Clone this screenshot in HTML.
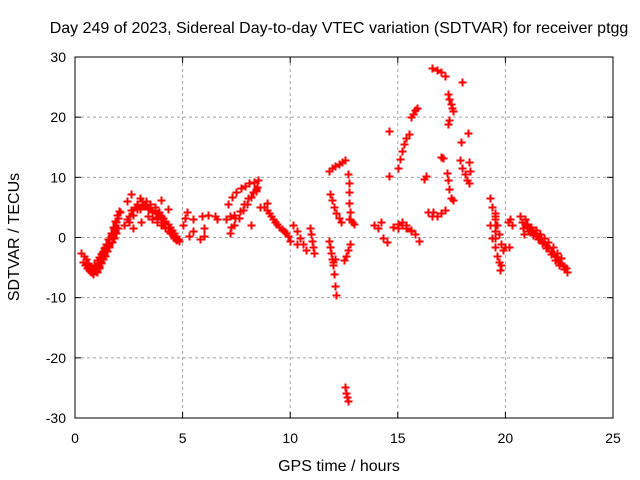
<!DOCTYPE html>
<html><head><meta charset="utf-8"><style>
body{margin:0;background:#fff}
svg{display:block;font-family:"Liberation Sans",sans-serif}
</style></head><body>
<svg id="chart" width="640" height="480" xmlns="http://www.w3.org/2000/svg">
<rect width="640" height="480" fill="#fff"/>
<text x="339" y="33" text-anchor="middle" font-size="16">Day 249 of 2023, Sidereal Day-to-day VTEC variation (SDTVAR) for receiver ptgg</text>
<text x="339" y="471" text-anchor="middle" font-size="16">GPS time / hours</text>
<text transform="translate(19,237) rotate(-90)" text-anchor="middle" font-size="16">SDTVAR / TECUs</text>
<g id="grid"></g><g id="ticks"></g><g id="marks"></g>
<rect x="75" y="57" width="538" height="361" fill="none" stroke="#000" stroke-width="1"/>
</svg>
<script>
const xTicks = [0,5,10,15,20,25];
const yTicks = [-30,-20,-10,0,10,20,30];
const trackTimes = [
[0.3,0.4,0.5,0.6,0.7,0.8,0.9,1.0],
[0.35,0.45,0.55,0.65,0.75,0.85],
[0.95,1.05,1.15,1.25,1.35,1.45,1.55,1.65,1.75,1.85,1.95,2.05],
[1.0,1.1,1.2,1.3,1.4,1.5,1.6,1.7,1.8,1.9,2.0],
[1.1,1.2,1.3,1.4,1.5,1.6,1.7,1.8,1.9,2.0,2.1],
[0.5,0.6,0.7,0.8,0.9,1.0,1.1,1.2,1.3,1.4,1.5,1.6,1.7,1.8],
[2.3,2.5,2.7,2.9,3.1,3.3,3.5,3.7,3.9,4.1,4.3,4.5,4.7,4.85],
[2.4,2.6,2.8,3.0,3.2,3.4,3.6,3.8,4.0,4.2,4.4,4.6,4.8],
[3.4,3.6,3.8,4.0,4.2,4.4,4.6],
[2.5,2.7,2.9,3.1,3.3,3.5,3.7,3.9,4.1,4.3,4.5,4.7],
[3.0,3.2,3.4,3.6,3.8,4.0,4.2,4.4],
[2.4,2.6,2.7,3.05,4.0,4.3],
[5.0,5.1,5.2,5.5,5.5,5.8,5.9,6.0,6.2,6.5,6.6,5.3,6.0],
[7.1,7.3,7.5,7.7,7.9,8.1,8.3,8.5],
[7.2,7.4,7.6,7.8,8.0,8.2,8.4],
[7.25,7.45,7.65,7.85,8.05,8.25,8.45],
[7.0,7.2,7.4,8.2,8.6,8.9,8.4],
[8.9,9.1,9.3,9.5,9.7,9.9],
[8.8,9.0,9.2,9.4,9.6,9.8],
[10.15,10.3,10.45,10.6,10.75,10.0,10.3],
[10.9,10.95,11.0,11.05,11.1],
[11.8,11.95,12.1,12.25,12.4,12.55],
[11.85,11.95,12.05,12.15,12.25,12.35],
[12.7,12.72,12.75,12.75,12.78,12.8],
[12.75,12.85,12.95],
[11.8,11.85,11.9,11.95,12.0,12.05,12.1,12.15,12.0,12.1],
[12.5,12.6,12.7,12.8],
[12.55,12.6,12.65,12.7],
[13.9,14.1,14.3,14.5,14.2],
[14.8,15.0,15.2,15.4,15.6,15.8,16.0],
[15.0,15.2,15.4,15.6],
[14.6,14.6],
[15.0,15.1,15.2,15.3,15.4,15.5],
[15.6,15.7,15.8,15.9],
[16.2,16.3],
[16.4,16.6,16.8,17.0,17.2,16.65],
[16.6,16.8,17.0,17.2],
[17.0,17.1],
[17.35,17.4,17.45,17.5,17.55,17.4,17.35],
[17.3,17.35,17.4,17.45,17.55],
[18.0,17.95,18.25],
[17.9,18.0,18.1,18.2,18.3,18.3,18.35],
[19.3,19.4,19.5,19.6,19.7,19.8,19.9],
[19.3,19.4,19.5,19.6,19.7,19.8],
[19.5,19.5,19.5,19.5,19.5,19.75,20.1,20.2,20.3,20.0,20.15],
[20.7,20.75,20.8,20.85,20.9,21.0,21.05],
[21.0,21.2,21.4,21.6,21.8,22.0,22.2,22.4,22.6,22.8],
[21.1,21.3,21.5,21.7,21.9,22.1,22.3,22.5,22.7,22.85],
[21.0,21.2,21.4,21.6,21.8,22.0,22.2,22.4,22.6],
[21.1,21.3,21.5,21.7,21.9,22.1,22.3,22.5,22.7]
];
const trackValues = [
[-2.5,-3,-3.6,-4.2,-4.7,-5.1,-5.4,-5.6],
[-4,-4.5,-5,-5.4,-5.8,-6],
[-5,-4.3,-3.5,-2.6,-1.8,-1,-0.2,0.8,1.8,2.8,3.7,4.4],
[-5.8,-5,-4.3,-3.6,-3,-2.3,-1.6,-0.8,0,0.8,1.6],
[-4.8,-4,-3,-2.2,-1.2,-0.3,0.5,1.5,2.5,3.3,4.2],
[-3.5,-4.3,-4.8,-5,-4.6,-3.8,-3.2,-2.8,-2.2,-1.6,-1,-0.3,0.3,1],
[2,3.5,4.5,5.5,6,6,5.5,5,4.2,3.3,2.3,1.2,0.2,-0.5],
[3,4.5,5,6.5,5.2,4.8,4.6,4,3.6,2.8,1.8,0.8,-0.2],
[3.5,3,2.5,2,1.5,0.8,0],
[2.5,3.8,4.8,5.3,5.4,5,4.4,3.6,2.6,1.6,0.6,-0.4],
[4.8,5.2,4.8,4.2,3.4,2.6,1.8,1],
[6,7.2,1.5,2.5,6.2,4.8],
[2,3.2,4.2,1,3,-0.2,3.5,1.5,3.8,3.5,3,0.3,0.3],
[5.5,6.7,7.5,8.2,8.6,9,9.3,9.5],
[0.8,2,3.3,4.5,5.6,6.7,7.7],
[1.8,3.2,4.4,5.6,6.6,7.5,8.4],
[3,3.5,3.8,2,5,5.8,8],
[4.5,3.5,2.5,1.8,1,0.3],
[5,4,3,2.2,1.4,0.7],
[2,1,0,-1,-2,-0.5,-1],
[1.5,0.5,-0.5,-1.5,-2.5],
[11,11.5,11.9,12.2,12.5,12.8],
[7.2,6.2,5,4,3.2,2.5],
[10.5,9,7.5,5.8,4.3,3],
[3,2.5,2.2],
[-0.5,-1.5,-2.5,-3.5,-4.5,-6,-8,-9.6,-4,-3.5],
[-3.8,-3,-2,-1],
[-24.8,-25.8,-26.5,-27.2],
[2,1.5,0,-0.8,2.5],
[1.8,2.3,2.5,2,1,0.5,-0.5],
[1.5,2,1.6,1.2],
[17.7,10.2],
[11.5,13,14.3,15.5,16.5,17.2],
[20,20.6,21.2,21.5],
[9.8,10.2],
[4.2,3.5,3.5,4,4.5,4.2],
[28.2,27.8,27.5,26.8],
[13.4,13.2],
[23.8,23,22.2,21.5,21,19.5,18.8],
[10.8,9.5,8,6.5,6.3],
[25.8,15.9,17.4],
[12.8,11.5,10.5,9.5,9,12.6,11],
[6.5,5,3.5,2,0.5,-1,-2],
[2,0,-1.5,-3,-4,-4.5],
[4,3,2,1,0,-5.4,2.5,3,2,-1.5,-1.5],
[3.5,2.5,1.5,0.5,3,2,1],
[1.8,1.2,0.5,-0.1,-0.8,-1.6,-2.5,-3.3,-4.2,-5],
[1,0.4,-0.3,-0.9,-1.8,-2.8,-3.7,-4.5,-5.3,-5.8],
[2.3,1.8,1.2,0.6,0,-0.8,-1.6,-2.5,-3.4],
[1.5,0.9,0.2,-0.5,-1.3,-2.2,-3.1,-4,-4.8]
];
const NS='http://www.w3.org/2000/svg';
const X0=75,X1=613,Y0=418,Y1=57;
function xs(t){return X0+(t-0)/(25-0)*(X1-X0);}
function ys(v){return Y0-(v+30)/60*(Y0-Y1);}
function mk(tag,attrs,parent){const e=document.createElementNS(NS,tag);for(const k in attrs)e.setAttribute(k,attrs[k]);parent.appendChild(e);return e;}
const grid=document.getElementById('grid'),ticks=document.getElementById('ticks'),marks=document.getElementById('marks');
xTicks.forEach(t=>{
  const x=xs(t);
  if(t>0&&t<25){const g=mk('line',{x1:x,x2:x,y1:Y1,y2:Y0,stroke:'#a0a0a0','stroke-dasharray':'3,3'},grid);
  
  }
  const tl=mk('text',{x:x,y:443,'text-anchor':'middle','font-size':'14'},ticks);tl.textContent=t;
  
  
  mk('line',{x1:x,x2:x,y1:Y0,y2:Y0-6,stroke:'#000'},ticks);
  mk('line',{x1:x,x2:x,y1:Y1,y2:Y1+6,stroke:'#000'},ticks);
});
yTicks.forEach(v=>{
  const y=ys(v);
  if(v>-30&&v<30){const g=mk('line',{x1:X0,x2:X1,y1:y,y2:y,stroke:'#a0a0a0','stroke-dasharray':'3,3'},grid);
  
  }
  const tl=mk('text',{x:66,y:y+5,'text-anchor':'end','font-size':'14'},ticks);tl.textContent=v;
  
  
  mk('line',{x1:X0,x2:X0+6,y1:y,y2:y,stroke:'#000'},ticks);
  mk('line',{x1:X1,x2:X1-6,y1:y,y2:y,stroke:'#000'},ticks);
});
trackTimes.forEach((ts,i)=>{
  const vs=trackValues[i];
  ts.forEach((t,j)=>{
    const x=Math.round(xs(t))+0.5,y=Math.round(ys(vs[j]))+0.5;
    const p=mk('path',{d:`M${x-4},${y}H${x+4}M${x},${y-4}V${y+4}`,stroke:'#ff0000','stroke-width':'2',fill:'none'},marks);
    
    
  });
});
</script>
</body></html>
